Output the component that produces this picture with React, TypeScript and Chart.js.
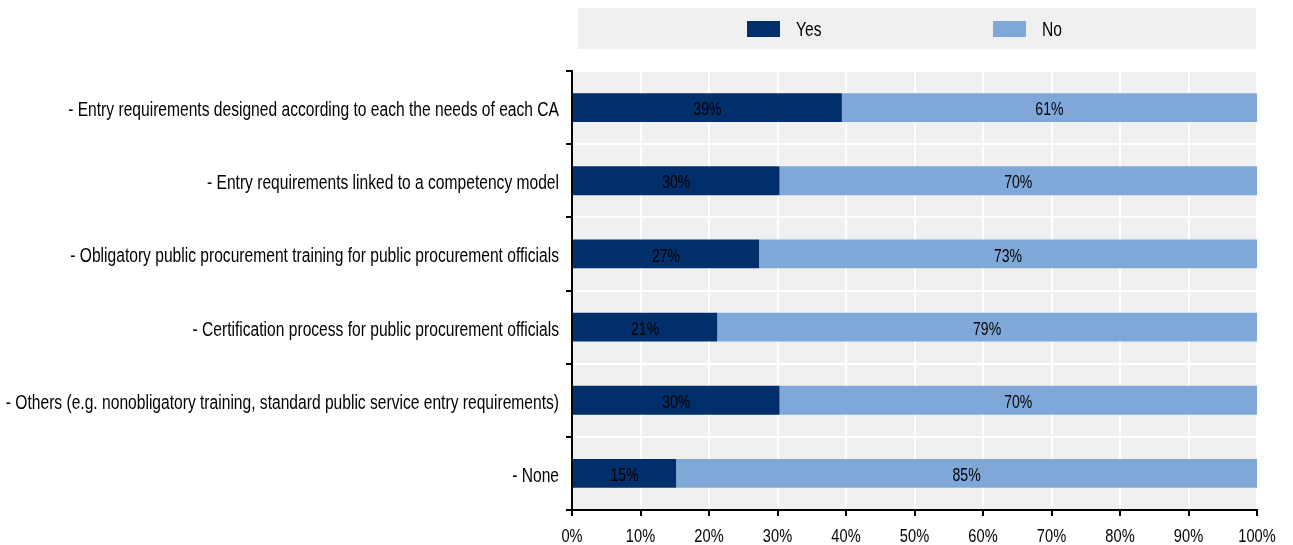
import React, { useEffect, useRef } from "react";
import { Chart, registerables } from "chart.js";

Chart.register(...registerables);

const categories = [
  "- Entry requirements designed according to each the needs of each CA",
  "- Entry requirements linked to a competency model",
  "- Obligatory public procurement training for public procurement officials",
  "- Certification process for public procurement officials",
  "- Others (e.g. nonobligatory training, standard public service entry requirements)",
  "- None",
];
const seriesNames = ["Yes", "No"];
const yesValues = [39.4, 30.3, 27.3, 21.2, 30.3, 15.2];
const noValues = [60.6, 69.7, 72.7, 78.8, 69.7, 84.8];
const seriesColors = ["#002f6c", "#7fa8d9"];
const xTickValues = [0, 10, 20, 30, 40, 50, 60, 70, 80, 90, 100];

const FONT = "'Liberation Sans', Arial, sans-serif";

function drawNarrow(ctx: any, text: string, x: number, yCenter: number, size: number, sx: number, align: string) {
  ctx.save();
  ctx.font = `${size}px ${FONT}`;
  ctx.textBaseline = "alphabetic";
  ctx.textAlign = align;
  ctx.translate(x, yCenter + (0.716 * size) / 2);
  ctx.scale(sx, 1);
  ctx.fillText(text, 0, 0);
  ctx.restore();
}

const bgPlugin = {
  id: "plotBg",
  beforeDraw(chart: any) {
    const { ctx, chartArea } = chart;
    ctx.save();
    ctx.fillStyle = "#f0f0f0";
    ctx.fillRect(chartArea.left, chartArea.top, chartArea.right - chartArea.left, chartArea.bottom - chartArea.top);
    ctx.restore();
  },
};

const axisLabelPlugin = {
  id: "axisLabels",
  afterDraw(chart: any) {
    const { ctx } = chart;
    const ys = chart.scales.y;
    const xs = chart.scales.x;
    ctx.save();
    ctx.fillStyle = "#000";
    (chart.data.labels as string[]).forEach((lab, i) => {
      const y = ys.getPixelForValue(i);
      drawNarrow(ctx, lab, ys.right - 13, y + 1.5, 19.5, 0.8, "right");
    });
    xTickValues.forEach((v) => {
      const x = xs.getPixelForValue(v);
      drawNarrow(ctx, v + "%", x, xs.top + 25.5, 19, 0.77, "center");
    });
    ctx.restore();
  },
};

const legendPlugin = {
  id: "boxLegend",
  afterDraw(chart: any) {
    const { ctx } = chart;
    const boxLeft = 578;
    const boxRight = 1256;
    const boxTop = 8;
    const boxBottom = 49;
    ctx.save();
    ctx.fillStyle = "#f0f0f0";
    ctx.fillRect(boxLeft, boxTop, boxRight - boxLeft, boxBottom - boxTop);
    const swatchX = [747, 993];
    chart.data.datasets.forEach((ds: any, i: number) => {
      ctx.fillStyle = ds.backgroundColor;
      ctx.fillRect(swatchX[i], 21, 33, 16);
      ctx.fillStyle = "#000";
      drawNarrow(ctx, ds.label, swatchX[i] + 49, 29.2, 19.5, 0.8, "left");
    });
    ctx.restore();
  },
};

const labelPlugin = {
  id: "barLabels",
  afterDatasetsDraw(chart: any) {
    const { ctx } = chart;
    ctx.save();
    ctx.fillStyle = "#000";
    chart.data.datasets.forEach((ds: any, di: number) => {
      const meta = chart.getDatasetMeta(di);
      meta.data.forEach((el: any, i: number) => {
        const p = el.getCenterPoint();
        drawNarrow(ctx, Math.round(ds.data[i]) + "%", p.x, p.y + 1, 18.5, 0.76, "center");
      });
    });
    ctx.restore();
  },
};

export default function App() {
  const canvasRef = useRef<HTMLCanvasElement | null>(null);

  useEffect(() => {
    document.body.style.margin = "0";
    document.body.style.overflow = "hidden";
    const canvas = canvasRef.current;
    if (!canvas) return;
    const chart = new Chart(canvas, {
      type: "bar",
      data: {
        labels: categories,
        datasets: [
          { label: seriesNames[0], data: yesValues, backgroundColor: seriesColors[0] },
          { label: seriesNames[1], data: noValues, backgroundColor: seriesColors[1] },
        ],
      },
      options: {
        indexAxis: "y",
        animation: false,
        responsive: true,
        maintainAspectRatio: false,
        layout: { padding: { top: 71, right: 36, left: 0, bottom: 0 } },
        datasets: { bar: { barPercentage: 0.395, categoryPercentage: 1.0 } },
        plugins: {
          legend: { display: false },
          tooltip: { enabled: false },
        },
        scales: {
          x: {
            stacked: true,
            min: 0,
            max: 100,
            afterBuildTicks(scale: any) {
              scale.ticks = xTickValues.map((v) => ({ value: v }));
            },
            afterFit(scale: any) {
              scale.height = 35;
            },
            grid: {
              color: "#ffffff",
              lineWidth: 2,
              tickColor: "#000",
              tickLength: 6,
              drawTicks: true,
            },
            border: { color: "#000", width: 2, z: 1 },
            ticks: { display: false },
          },
          y: {
            stacked: true,
            afterFit(scale: any) {
              scale.width = 572;
            },
            grid: {
              offset: true,
              color: "#ffffff",
              lineWidth: 2,
              tickColor: "#000",
              tickLength: 6,
              drawTicks: true,
            },
            border: { color: "#000", width: 2, z: 1 },
            ticks: { display: false, autoSkip: false },
          },
        },
      },
      plugins: [bgPlugin, axisLabelPlugin, legendPlugin, labelPlugin],
    });
    return () => chart.destroy();
  }, []);

  return (
    <div style={{ position: "relative", width: 1293, height: 545 }}>
      <canvas ref={canvasRef} />
    </div>
  );
}
